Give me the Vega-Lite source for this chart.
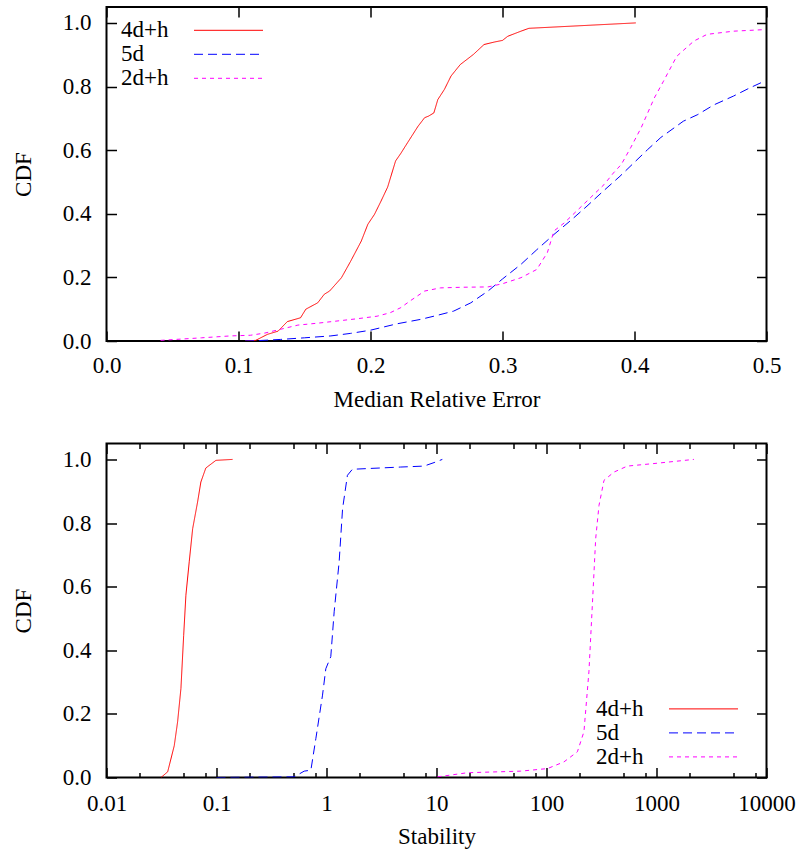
{
  "$schema": "https://vega.github.io/schema/vega-lite/v6.json",
  "padding": {"left": 10.5, "top": 5, "right": 5, "bottom": 5},
  "spacing": 28.5,
  "datasets": {
    "err": [
      {"series": "4d+h", "x": 0.105, "y": 0},
      {"series": "4d+h", "x": 0.113, "y": 0.002},
      {"series": "4d+h", "x": 0.122, "y": 0.021},
      {"series": "4d+h", "x": 0.130, "y": 0.031},
      {"series": "4d+h", "x": 0.137, "y": 0.061},
      {"series": "4d+h", "x": 0.147, "y": 0.073},
      {"series": "4d+h", "x": 0.151, "y": 0.100},
      {"series": "4d+h", "x": 0.160, "y": 0.120},
      {"series": "4d+h", "x": 0.165, "y": 0.147},
      {"series": "4d+h", "x": 0.169, "y": 0.157},
      {"series": "4d+h", "x": 0.178, "y": 0.199},
      {"series": "4d+h", "x": 0.185, "y": 0.251},
      {"series": "4d+h", "x": 0.193, "y": 0.314},
      {"series": "4d+h", "x": 0.198, "y": 0.367},
      {"series": "4d+h", "x": 0.203, "y": 0.398},
      {"series": "4d+h", "x": 0.208, "y": 0.440},
      {"series": "4d+h", "x": 0.213, "y": 0.484},
      {"series": "4d+h", "x": 0.219, "y": 0.566},
      {"series": "4d+h", "x": 0.223, "y": 0.590},
      {"series": "4d+h", "x": 0.228, "y": 0.623},
      {"series": "4d+h", "x": 0.236, "y": 0.675},
      {"series": "4d+h", "x": 0.241, "y": 0.702},
      {"series": "4d+h", "x": 0.244, "y": 0.707},
      {"series": "4d+h", "x": 0.248, "y": 0.717},
      {"series": "4d+h", "x": 0.251, "y": 0.759},
      {"series": "4d+h", "x": 0.256, "y": 0.791},
      {"series": "4d+h", "x": 0.261, "y": 0.833},
      {"series": "4d+h", "x": 0.268, "y": 0.869},
      {"series": "4d+h", "x": 0.273, "y": 0.885},
      {"series": "4d+h", "x": 0.278, "y": 0.901},
      {"series": "4d+h", "x": 0.286, "y": 0.932},
      {"series": "4d+h", "x": 0.294, "y": 0.940},
      {"series": "4d+h", "x": 0.300, "y": 0.945},
      {"series": "4d+h", "x": 0.304, "y": 0.958},
      {"series": "4d+h", "x": 0.314, "y": 0.974},
      {"series": "4d+h", "x": 0.320, "y": 0.983},
      {"series": "4d+h", "x": 0.401, "y": 1.0},
      {"series": "5d", "x": 0.105, "y": 0},
      {"series": "5d", "x": 0.114, "y": 0.001},
      {"series": "5d", "x": 0.132, "y": 0.005},
      {"series": "5d", "x": 0.150, "y": 0.010},
      {"series": "5d", "x": 0.170, "y": 0.016},
      {"series": "5d", "x": 0.185, "y": 0.024},
      {"series": "5d", "x": 0.200, "y": 0.034},
      {"series": "5d", "x": 0.220, "y": 0.054},
      {"series": "5d", "x": 0.238, "y": 0.068},
      {"series": "5d", "x": 0.250, "y": 0.080},
      {"series": "5d", "x": 0.263, "y": 0.094},
      {"series": "5d", "x": 0.276, "y": 0.120},
      {"series": "5d", "x": 0.289, "y": 0.157},
      {"series": "5d", "x": 0.300, "y": 0.195},
      {"series": "5d", "x": 0.314, "y": 0.241},
      {"series": "5d", "x": 0.326, "y": 0.287},
      {"series": "5d", "x": 0.339, "y": 0.335},
      {"series": "5d", "x": 0.352, "y": 0.380},
      {"series": "5d", "x": 0.364, "y": 0.424},
      {"series": "5d", "x": 0.376, "y": 0.470},
      {"series": "5d", "x": 0.389, "y": 0.518},
      {"series": "5d", "x": 0.400, "y": 0.562},
      {"series": "5d", "x": 0.410, "y": 0.602},
      {"series": "5d", "x": 0.420, "y": 0.640},
      {"series": "5d", "x": 0.437, "y": 0.691},
      {"series": "5d", "x": 0.448, "y": 0.712},
      {"series": "5d", "x": 0.460, "y": 0.742},
      {"series": "5d", "x": 0.475, "y": 0.770},
      {"series": "5d", "x": 0.487, "y": 0.795},
      {"series": "5d", "x": 0.499, "y": 0.818},
      {"series": "2d+h", "x": 0.041, "y": 0.002},
      {"series": "2d+h", "x": 0.072, "y": 0.010},
      {"series": "2d+h", "x": 0.094, "y": 0.016},
      {"series": "2d+h", "x": 0.109, "y": 0.018},
      {"series": "2d+h", "x": 0.120, "y": 0.025},
      {"series": "2d+h", "x": 0.132, "y": 0.037},
      {"series": "2d+h", "x": 0.145, "y": 0.050},
      {"series": "2d+h", "x": 0.160, "y": 0.056},
      {"series": "2d+h", "x": 0.190, "y": 0.070},
      {"series": "2d+h", "x": 0.205, "y": 0.078},
      {"series": "2d+h", "x": 0.215, "y": 0.089},
      {"series": "2d+h", "x": 0.223, "y": 0.105},
      {"series": "2d+h", "x": 0.230, "y": 0.126},
      {"series": "2d+h", "x": 0.241, "y": 0.157},
      {"series": "2d+h", "x": 0.253, "y": 0.167},
      {"series": "2d+h", "x": 0.270, "y": 0.169},
      {"series": "2d+h", "x": 0.289, "y": 0.170},
      {"series": "2d+h", "x": 0.300, "y": 0.180},
      {"series": "2d+h", "x": 0.314, "y": 0.199},
      {"series": "2d+h", "x": 0.326, "y": 0.225},
      {"series": "2d+h", "x": 0.334, "y": 0.278},
      {"series": "2d+h", "x": 0.339, "y": 0.346},
      {"series": "2d+h", "x": 0.347, "y": 0.372},
      {"series": "2d+h", "x": 0.364, "y": 0.440},
      {"series": "2d+h", "x": 0.377, "y": 0.492},
      {"series": "2d+h", "x": 0.384, "y": 0.528},
      {"series": "2d+h", "x": 0.390, "y": 0.555},
      {"series": "2d+h", "x": 0.397, "y": 0.607},
      {"series": "2d+h", "x": 0.405, "y": 0.670},
      {"series": "2d+h", "x": 0.415, "y": 0.764},
      {"series": "2d+h", "x": 0.422, "y": 0.817},
      {"series": "2d+h", "x": 0.432, "y": 0.895},
      {"series": "2d+h", "x": 0.445, "y": 0.943},
      {"series": "2d+h", "x": 0.455, "y": 0.964},
      {"series": "2d+h", "x": 0.475, "y": 0.974},
      {"series": "2d+h", "x": 0.499, "y": 0.979}
    ],
    "stab": [
      {"series": "4d+h", "x": 0.0313, "y": 0},
      {"series": "4d+h", "x": 0.036, "y": 0.018},
      {"series": "4d+h", "x": 0.0413, "y": 0.10},
      {"series": "4d+h", "x": 0.0443, "y": 0.175},
      {"series": "4d+h", "x": 0.0475, "y": 0.28},
      {"series": "4d+h", "x": 0.0503, "y": 0.447},
      {"series": "4d+h", "x": 0.0527, "y": 0.573},
      {"series": "4d+h", "x": 0.0565, "y": 0.678},
      {"series": "4d+h", "x": 0.0607, "y": 0.782},
      {"series": "4d+h", "x": 0.0673, "y": 0.866},
      {"series": "4d+h", "x": 0.0721, "y": 0.929},
      {"series": "4d+h", "x": 0.080, "y": 0.973},
      {"series": "4d+h", "x": 0.0988, "y": 0.997},
      {"series": "4d+h", "x": 0.140, "y": 1.0},
      {"series": "5d", "x": 0.1, "y": 0},
      {"series": "5d", "x": 0.508, "y": 0.002},
      {"series": "5d", "x": 0.627, "y": 0.020},
      {"series": "5d", "x": 0.721, "y": 0.023},
      {"series": "5d", "x": 0.80, "y": 0.122},
      {"series": "5d", "x": 0.92, "y": 0.259},
      {"series": "5d", "x": 0.986, "y": 0.342},
      {"series": "5d", "x": 1.094, "y": 0.380},
      {"series": "5d", "x": 1.174, "y": 0.521},
      {"series": "5d", "x": 1.303, "y": 0.678},
      {"series": "5d", "x": 1.40, "y": 0.845},
      {"series": "5d", "x": 1.55, "y": 0.950},
      {"series": "5d", "x": 1.72, "y": 0.969},
      {"series": "5d", "x": 4.73, "y": 0.976},
      {"series": "5d", "x": 7.71, "y": 0.979},
      {"series": "5d", "x": 9.5, "y": 0.990},
      {"series": "5d", "x": 11.3, "y": 1.0},
      {"series": "2d+h", "x": 10.2, "y": 0.002},
      {"series": "2d+h", "x": 19.1, "y": 0.015},
      {"series": "2d+h", "x": 58.2, "y": 0.020},
      {"series": "2d+h", "x": 102, "y": 0.028},
      {"series": "2d+h", "x": 144, "y": 0.049},
      {"series": "2d+h", "x": 191, "y": 0.081},
      {"series": "2d+h", "x": 219, "y": 0.144},
      {"series": "2d+h", "x": 243, "y": 0.332},
      {"series": "2d+h", "x": 261, "y": 0.541},
      {"series": "2d+h", "x": 280, "y": 0.751},
      {"series": "2d+h", "x": 300, "y": 0.855},
      {"series": "2d+h", "x": 333, "y": 0.934},
      {"series": "2d+h", "x": 410, "y": 0.960},
      {"series": "2d+h", "x": 543, "y": 0.979},
      {"series": "2d+h", "x": 949, "y": 0.987},
      {"series": "2d+h", "x": 2188, "y": 1.0}
    ]
  },
  "vconcat": [
    {
      "width": 660,
      "height": 334,
      "data": {"name": "err"},
      "layer": [
        {
          "mark": {"type": "line", "strokeWidth": 1, "clip": true},
          "encoding": {
            "x": {"field": "x", "type": "quantitative",
              "scale": {"domain": [0, 0.5], "nice": false, "zero": false},
              "axis": {"orient": "bottom", "values": [0, 0.1, 0.2, 0.3, 0.4, 0.5], "format": ".1f", "tickSize": -10, "labelPadding": 23.5, "title": "Median Relative Error", "titlePadding": 11,
                "labelFont": "Liberation Serif", "labelFontSize": 23, "titleFont": "Liberation Serif", "titleFontSize": 23, "titleFontWeight": "normal"}},
            "y": {"field": "y", "type": "quantitative",
              "scale": {"domain": [0, 1.05], "nice": false},
              "axis": {"orient": "left", "values": [0, 0.2, 0.4, 0.6, 0.8, 1.0], "format": ".1f", "tickSize": -10, "labelPadding": 25.5, "title": "CDF", "titlePadding": 27,
                "labelFont": "Liberation Serif", "labelFontSize": 23, "titleFont": "Liberation Serif", "titleFontSize": 23, "titleFontWeight": "normal"}},
            "color": {"field": "series", "type": "nominal",
              "scale": {"domain": ["4d+h", "5d", "2d+h"], "range": ["#ff0000", "#0000ff", "#ff00ff"]},
              "legend": {"orient": "none", "legendX": 14.5, "legendY": 11.3, "title": null, "symbolType": "M-3,0H3", "symbolSize": 529, "symbolStrokeWidth": 1, "symbolOffset": 95.5, "labelOffset": -119.5, "labelAlign": "left", "labelFont": "Liberation Serif", "labelFontSize": 23, "labelColor": "black", "rowPadding": 0, "padding": 0}},
            "strokeDash": {"field": "series", "type": "nominal",
              "scale": {"domain": ["4d+h", "5d", "2d+h"], "range": [[1, 0], [9, 5], [4, 4]]},
              "legend": {"orient": "none", "legendX": 14.5, "legendY": 11.3, "title": null, "symbolType": "M-3,0H3", "symbolSize": 529, "symbolStrokeWidth": 1, "symbolOffset": 95.5, "labelOffset": -119.5, "labelAlign": "left", "labelFont": "Liberation Serif", "labelFontSize": 23, "labelColor": "black", "rowPadding": 0, "padding": 0}}
          }
        },
        {
          "mark": {"type": "point", "opacity": 0},
          "encoding": {
            "x": {"field": "x", "type": "quantitative", "axis": {"orient": "top", "values": [0, 0.1, 0.2, 0.3, 0.4, 0.5], "labels": false, "tickSize": -10, "title": null}},
            "y": {"field": "y", "type": "quantitative", "axis": {"orient": "right", "values": [0, 0.2, 0.4, 0.6, 0.8, 1.0], "labels": false, "tickSize": -10, "title": null}}
          }
        }
      ],
      "resolve": {"axis": {"x": "independent", "y": "independent"}}
    },
    {
      "width": 660,
      "height": 334,
      "data": {"name": "stab"},
      "layer": [
        {
          "mark": {"type": "line", "strokeWidth": 1, "clip": true},
          "encoding": {
            "x": {"field": "x", "type": "quantitative",
              "scale": {"type": "log", "domain": [0.01, 10000], "nice": false},
              "axis": {"orient": "bottom", "values": [0.01, 0.02, 0.05, 0.08, 0.1, 0.2, 0.5, 0.8, 1, 2, 5, 8, 10, 20, 50, 80, 100, 200, 500, 800, 1000, 2000, 5000, 8000, 10000],
                "format": "~g",
                "labelExpr": "abs(log(datum.value)/LN10 - round(log(datum.value)/LN10)) < 0.001 ? datum.label : ''",
                "tickSize": {"condition": {"test": "abs(log(datum.value)/LN10 - round(log(datum.value)/LN10)) < 0.001", "value": -10}, "value": -5},
                "labelPadding": 24.5, "title": "Stability", "titlePadding": 5,
                "labelFont": "Liberation Serif", "labelFontSize": 23, "titleFont": "Liberation Serif", "titleFontSize": 23, "titleFontWeight": "normal"}},
            "y": {"field": "y", "type": "quantitative",
              "scale": {"domain": [0, 1.05], "nice": false},
              "axis": {"orient": "left", "values": [0, 0.2, 0.4, 0.6, 0.8, 1.0], "format": ".1f", "tickSize": -10, "labelPadding": 25.5, "title": "CDF", "titlePadding": 27,
                "labelFont": "Liberation Serif", "labelFontSize": 23, "titleFont": "Liberation Serif", "titleFontSize": 23, "titleFontWeight": "normal"}},
            "color": {"field": "series", "type": "nominal",
              "scale": {"domain": ["4d+h", "5d", "2d+h"], "range": ["#ff0000", "#0000ff", "#ff00ff"]},
              "legend": {"orient": "none", "legendX": 489.5, "legendY": 253.4, "title": null, "symbolType": "M-3,0H3", "symbolSize": 529, "symbolStrokeWidth": 1, "symbolOffset": 95.5, "labelOffset": -119.5, "labelAlign": "left", "labelFont": "Liberation Serif", "labelFontSize": 23, "labelColor": "black", "rowPadding": 0, "padding": 0}},
            "strokeDash": {"field": "series", "type": "nominal",
              "scale": {"domain": ["4d+h", "5d", "2d+h"], "range": [[1, 0], [9, 5], [4, 4]]},
              "legend": {"orient": "none", "legendX": 489.5, "legendY": 253.4, "title": null, "symbolType": "M-3,0H3", "symbolSize": 529, "symbolStrokeWidth": 1, "symbolOffset": 95.5, "labelOffset": -119.5, "labelAlign": "left", "labelFont": "Liberation Serif", "labelFontSize": 23, "labelColor": "black", "rowPadding": 0, "padding": 0}}
          }
        },
        {
          "mark": {"type": "point", "opacity": 0},
          "encoding": {
            "x": {"field": "x", "type": "quantitative", "axis": {"orient": "top", "values": [0.01, 0.02, 0.05, 0.08, 0.1, 0.2, 0.5, 0.8, 1, 2, 5, 8, 10, 20, 50, 80, 100, 200, 500, 800, 1000, 2000, 5000, 8000, 10000], "labels": false,
              "tickSize": {"condition": {"test": "abs(log(datum.value)/LN10 - round(log(datum.value)/LN10)) < 0.001", "value": -10}, "value": -5}, "title": null}},
            "y": {"field": "y", "type": "quantitative", "axis": {"orient": "right", "values": [0, 0.2, 0.4, 0.6, 0.8, 1.0], "labels": false, "tickSize": -10, "title": null}}
          }
        }
      ],
      "resolve": {"axis": {"x": "independent", "y": "independent"}}
    }
  ],
  "resolve": {
    "scale": {"x": "independent", "y": "independent"},
    "legend": {"color": "independent", "strokeDash": "independent"}
  },
  "config": {
    "font": "Liberation Serif",
    "view": {"stroke": "black", "strokeWidth": 2},
    "axis": {
      "labelFont": "Liberation Serif", "labelFontSize": 23, "labelColor": "black",
      "titleFont": "Liberation Serif", "titleFontSize": 23, "titleFontWeight": "normal", "titleColor": "black",
      "tickColor": "black", "tickWidth": 1.5, "domain": false, "grid": false,
      "labelFlush": false, "labelOverlap": false, "labelBound": false
    },
    "legend": {
      "labelFont": "Liberation Serif", "labelFontSize": 23, "labelColor": "black"
    }
  }
}
